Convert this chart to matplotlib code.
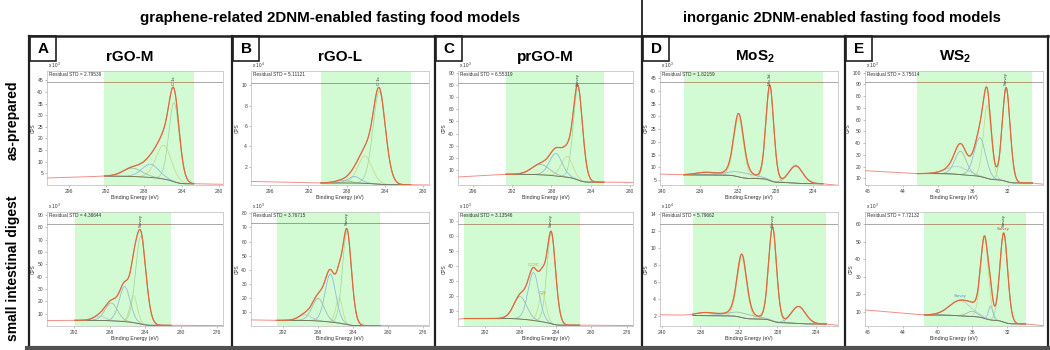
import numpy as np
import matplotlib
matplotlib.use('Agg')
import matplotlib.pyplot as plt
from matplotlib.patches import Rectangle
from matplotlib.ticker import MultipleLocator

plt.rcParams['font.family'] = ['Liberation Sans', 'DejaVu Sans']
plt.rcParams['mathtext.fontset'] = 'custom'
plt.rcParams['mathtext.rm'] = 'Liberation Sans'
plt.rcParams['mathtext.bf'] = 'Liberation Sans:bold'

# ------------------------------------------------------------------ data
group_headers = ['graphene-related 2DNM-enabled fasting food models',
                 'inorganic 2DNM-enabled fasting food models']
row_labels = ['as-prepared', 'small intestinal digest']
panel_letters = ['A', 'B', 'C', 'D', 'E']
panel_titles = ['rGO-M', 'rGO-L', 'prGO-M', r'MoS$_\mathbf{2}$', r'WS$_\mathbf{2}$']

# fitted components (centre eV, height above background, FWHM eV) per spectrum
A_top_centers = [284.8, 285.9, 287.3, 289.2]
A_top_heights = [34.0, 14.5, 5.7, 3.6]
A_top_fwhm = [1.35, 2.0, 2.2, 2.5]
A_bot_centers = [284.5, 285.3, 286.3, 287.8, 289.1]
A_bot_heights = [71.5, 22.0, 28.5, 14.5, 3.3]
A_bot_fwhm = [1.4, 1.0, 1.5, 1.7, 1.7]

B_top_centers = [284.6, 286.1, 287.2, 288.4]
B_top_heights = [9.1, 2.7, 0.65, 0.25]
B_top_fwhm = [1.6, 1.8, 1.6, 2.0]
B_bot_centers = [284.7, 285.6, 286.6, 288.0, 289.5]
B_bot_heights = [66.0, 18.0, 34.0, 16.0, 4.0]
B_bot_fwhm = [1.25, 0.9, 1.5, 1.7, 1.8]

C_top_centers = [285.3, 286.4, 287.55, 289.1]
C_top_heights = [75.0, 17.3, 18.5, 8.5]
C_top_fwhm = [1.15, 1.4, 1.6, 2.2]
C_bot_centers = [284.5, 285.5, 286.5, 288.0]
C_bot_heights = [60.0, 19.0, 32.0, 15.0]
C_bot_fwhm = [1.2, 1.0, 1.5, 1.8]

D_top_centers = [228.6, 231.9, 225.85, 231.5, 235.4]
D_top_heights = [37.3, 23.0, 6.8, 2.0, 1.0]
D_top_fwhm = [1.0, 1.25, 1.8, 3.5, 2.5]
D_bot_centers = [228.5, 231.7, 225.8, 231.7, 235.5]
D_bot_heights = [11.0, 6.9, 2.0, 0.55, 0.35]
D_bot_fwhm = [1.0, 1.2, 1.8, 3.5, 2.5]

E_top_centers = [32.2, 34.35, 35.2, 37.4, 37.8]
E_top_heights = [80.0, 62.0, 33.0, 20.0, 6.6]
E_top_fwhm = [1.1, 1.1, 1.6, 1.6, 3.0]
E_bot_centers = [32.4, 34.6, 33.9, 36.0, 37.4]
E_bot_heights = [51.0, 46.0, 8.0, 3.0, 8.7]
E_bot_fwhm = [1.1, 1.1, 0.6, 1.5, 3.0]

# fit region (low, high eV) and background levels: low end, high end,
# data level at the left (high-BE) edge and right (low-BE) edge
top_regions = [(282.7, 292.2), (281.3, 290.7), (282.65, 292.65), (223.0, 237.7), (29.2, 42.35)]
bot_regions = [(281.1, 291.9), (280.9, 292.75), (281.3, 294.3), (222.9, 236.8), (29.9, 41.5)]
top_bg_low = [0.5, 0.22, 0.0, 3.5, 6.0]
top_bg_high = [3.8, 0.40, 6.5, 7.0, 14.0]
top_edge_left = [3.0, 0.55, 4.3, 7.3, 16.5]
top_edge_right = [0.3, 0.20, -0.2, 2.9, 5.0]
bot_bg_low = [0.5, 0.5, 0.5, 1.1, 3.0]
bot_bg_high = [4.6, 4.3, 5.0, 2.1, 8.1]
bot_edge_left = [4.4, 4.6, 4.5, 2.2, 11.0]
bot_edge_right = [0.3, 0.4, 0.3, 0.95, 2.0]

top_residual = [44.3, 10.27, 81.8, 43.7, 91.7]
bot_residual = [83.0, 73.4, 68.0, 12.9, 60.0]
top_std = ['2.79539', '5.11121', '6.55319', '1.82159', '3.75614']
bot_std = ['4.36644', '3.76715', '3.13546', '5.79662', '7.72132']
top_exp = [3, 4, 3, 3, 3]
bot_exp = [3, 3, 3, 4, 3]
top_peak_label = ['C 1s', 'C 1s', 'Survey', 'Mo 3d', 'Survey']
bot_peak_label = ['Survey', 'Survey', 'Survey', 'Survey', 'Survey']

# axis scales
top_xlim = [(298.3, 279.6), (298.0, 279.4), (297.5, 279.7), (240.2, 221.4), (48.3, 28.0)]
bot_xlim = [(295.0, 275.3), (295.7, 275.3), (295.0, 275.3), (240.2, 221.7), (48.3, 27.9)]
top_ylim = [(0, 49), (0.2, 11.4), (-2.3, 91.4), (3, 47.9), (4.3, 101.4)]
bot_ylim = [(0, 92.5), (0.3, 80.9), (0, 76), (0.87, 14.27), (1.8, 67)]
top_xticks = [[296, 292, 288, 284, 280]] * 3 + [[240, 236, 232, 228, 224], [48, 44, 40, 36, 32]]
bot_xticks = [[292, 288, 284, 280, 276]] * 3 + [[240, 236, 232, 228, 224], [48, 44, 40, 36, 32]]
top_yticks = [list(range(5, 46, 5)), [2, 4, 6, 8, 10], list(range(10, 91, 10)),
              list(range(5, 46, 5)), list(range(10, 101, 10))]
bot_yticks = [list(range(10, 91, 10)), list(range(10, 81, 10)), list(range(10, 71, 10)),
              [2, 4, 6, 8, 10, 12, 14], list(range(10, 61, 10))]

# ------------------------------------------------------------------ layout
W, H = 1050, 350
col_px = [(47, 223), (251, 429), (458, 633), (660, 838), (865, 1043)]
row_px = [(71, 185), (212, 326)]
panel_px = [29, 232, 435, 642, 845, 1048]
title_x = [130, 340, 545, 755, 955]

comp_colors = ['#a3d79a', '#c7d98d', '#8cb6da', '#9db5b2', '#b9c4dc']


def gl(x, c, h, w, m=0.3):
    d2 = ((x - c) / w) ** 2
    return h * np.exp(-4 * np.log(2) * (1 - m) * d2) / (1 + 4 * m * d2)


def draw_spectrum(ax, centers, heights, fwhm, region, bg_low, bg_high, e_left, e_right,
                  xlim, ylim, xticks, yticks, resid, std, expo, plabel):
    xmax, xmin = xlim
    x = np.linspace(xmin, xmax, 1500)
    comps = [gl(x, c, h, w) for c, h, w in zip(centers, heights, fwhm)]
    P = np.sum(comps, axis=0)
    lo, hi = region
    inr = (x >= lo) & (x <= hi)
    xr, Pr = x[inr], P[inr]
    cum = np.concatenate([[0], np.cumsum(0.5 * (Pr[1:] + Pr[:-1]) * np.diff(xr))])
    bg = np.empty_like(x)
    bg[inr] = bg_low + (bg_high - bg_low) * cum / cum[-1]
    lft = x > hi
    bg[lft] = bg_high + (e_left - bg_high) * (x[lft] - hi) / (xmax - hi)
    rgt = x < lo
    bg[rgt] = bg_low + (e_right - bg_low) * (lo - x[rgt]) / (lo - xmin)
    data = bg + P

    ax.axvspan(lo, hi, color='#d3fbd3', lw=0, zorder=0)
    for i, cp in enumerate(comps):
        ax.plot(x[inr], bg[inr] + cp[inr], color=comp_colors[i % len(comp_colors)], lw=0.55, zorder=2)
    ax.plot(x[inr], bg[inr], color='#6f7050', lw=0.6, zorder=3)
    ax.plot(x, data, color='#f09088', lw=0.7, zorder=3)
    ax.plot(x[inr], data[inr], color='#dc6a3c', lw=0.85, zorder=4)
    ax.axhline(resid, color='#9a9a9a', lw=0.6, zorder=3)
    ax.plot([lo, hi], [resid, resid], color='#b49a70', lw=0.6, zorder=4)

    ax.set_xlim(xmax, xmin)
    ax.set_ylim(*ylim)
    ax.set_xticks(xticks)
    ax.set_xticklabels([str(t) for t in xticks])
    ax.set_yticks(yticks)
    ax.set_yticklabels([str(t) for t in yticks])
    ax.xaxis.set_minor_locator(MultipleLocator(1))
    ax.tick_params(axis='both', which='major', labelsize=3.6, length=1.6, width=0.4,
                   color='#8a8a8a', labelcolor='#404040', pad=1.2)
    ax.tick_params(axis='x', which='minor', length=1.0, width=0.3, color='#8a8a8a')
    for sp in ax.spines.values():
        sp.set_color('#c6c6c6')
        sp.set_linewidth(0.6)
    ax.set_xlabel('Binding Energy (eV)', fontsize=3.8, labelpad=1.0, color='#303030')
    ax.set_ylabel('CPS', fontsize=3.4, labelpad=1.5, color='#303030')
    ax.text(0.005, 1.005, r'x 10$^{%d}$' % expo, transform=ax.transAxes, fontsize=3.4,
            ha='left', va='bottom', color='#303030')
    ax.text(0.01, 0.995, 'Residual STD = ' + std, transform=ax.transAxes, fontsize=3.4,
            ha='left', va='top', color='#303030', zorder=6)
    yr = ylim[1] - ylim[0]
    ax.text(centers[0], resid - 0.025 * yr, plabel, rotation=90, fontsize=3.0,
            ha='center', va='bottom', color='#303030', zorder=6)
    return x, data


fig = plt.figure(figsize=(W / 100, H / 100), dpi=100)

ov = fig.add_axes([0, 0, 1, 1], zorder=-1)
ov.set_xlim(0, W)
ov.set_ylim(H, 0)
ov.set_axis_off()

top_sets = [(A_top_centers, A_top_heights, A_top_fwhm), (B_top_centers, B_top_heights, B_top_fwhm),
            (C_top_centers, C_top_heights, C_top_fwhm), (D_top_centers, D_top_heights, D_top_fwhm),
            (E_top_centers, E_top_heights, E_top_fwhm)]
bot_sets = [(A_bot_centers, A_bot_heights, A_bot_fwhm), (B_bot_centers, B_bot_heights, B_bot_fwhm),
            (C_bot_centers, C_bot_heights, C_bot_fwhm), (D_bot_centers, D_bot_heights, D_bot_fwhm),
            (E_bot_centers, E_bot_heights, E_bot_fwhm)]


def rect(x0, x1, y0, y1):
    return [x0 / W, 1 - y1 / H, (x1 - x0) / W, (y1 - y0) / H]


axes_bot = []
for i in range(5):
    x0, x1 = col_px[i]
    axt = fig.add_axes(rect(x0, x1, *row_px[0]))
    c, h, w = top_sets[i]
    draw_spectrum(axt, c, h, w, top_regions[i], top_bg_low[i], top_bg_high[i],
                  top_edge_left[i], top_edge_right[i], top_xlim[i], top_ylim[i],
                  top_xticks[i], top_yticks[i], top_residual[i], top_std[i], top_exp[i],
                  top_peak_label[i])
    axb = fig.add_axes(rect(x0, x1, *row_px[1]))
    c, h, w = bot_sets[i]
    draw_spectrum(axb, c, h, w, bot_regions[i], bot_bg_low[i], bot_bg_high[i],
                  bot_edge_left[i], bot_edge_right[i], bot_xlim[i], bot_ylim[i],
                  bot_xticks[i], bot_yticks[i], bot_residual[i], bot_std[i], bot_exp[i],
                  bot_peak_label[i])
    axes_bot.append(axb)

# component annotations in the digested prGO-M and WS2 spectra
axes_bot[2].text(C_bot_centers[2], 40, 'C-O/C', fontsize=3.0, color='#c8902a', ha='center')
axes_bot[2].text(C_bot_centers[1], 21, 'C-N', fontsize=3.0, color='#c8902a', ha='center')
axes_bot[4].text(E_bot_centers[0], 57.5, 'Survey', fontsize=3.0, color='#d04030', ha='center', va='center')
axes_bot[4].text(E_bot_centers[4], 19, 'Survey', fontsize=3.0, color='#4a8ab8', ha='center', va='center')

# ------------------------------------------------------------------ frames & headers
ov.text(330, 18, group_headers[0], fontsize=10.9, fontweight='bold', ha='center', va='center')
ov.text(842, 18, group_headers[1], fontsize=10.6, fontweight='bold', ha='center', va='center')
ov.text(13, 120, row_labels[0], fontsize=10, fontweight='bold', rotation=90, ha='center', va='center')
ov.text(13, 268, row_labels[1], fontsize=10, fontweight='bold', rotation=90, ha='center', va='center')

ov.plot([642, 642], [0, 347], color='#202020', lw=1.3)
ov.plot([panel_px[0], panel_px[-1]], [36, 36], color='#202020', lw=1.8)
for px in panel_px:
    ov.plot([px, px], [36, 346], color='#202020', lw=1.6)
ov.plot([panel_px[0] - 2, panel_px[-1] + 2], [348, 348], color='#505050', lw=3.0)

for i in range(5):
    px = panel_px[i] + 1
    ov.add_patch(Rectangle((px, 36), 26, 25, fill=False, ec='#202020', lw=1.2))
    ov.text(px + 13, 49, panel_letters[i], fontsize=11, fontweight='bold', ha='center', va='center')
    ov.text(title_x[i], 57, panel_titles[i], fontsize=11, fontweight='bold', ha='center', va='center')

fig.savefig('out.png', dpi=100)
